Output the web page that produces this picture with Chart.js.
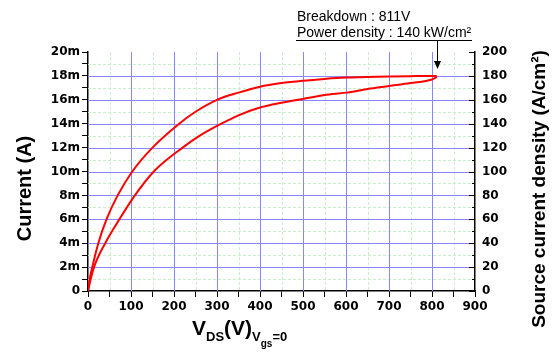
<!DOCTYPE html>
<html>
<head>
<meta charset="utf-8">
<script src="https://cdn.jsdelivr.net/npm/chart.js@4.4.1/dist/chart.umd.min.js"></script>
<style>body{margin:0;background:#fff}</style>
</head>
<body>
<canvas id="graficoIV" width="554" height="353"></canvas>
<script>
// sweep out (lower branch), V and mA
const vOut = [0, 5, 14, 40, 73, 109, 153, 220, 260, 310, 350, 400, 450, 500, 550, 600, 650, 700, 750, 800, 811];
const iOut = [0, 0.8, 2.0, 4.0, 6.0, 8.0, 10.0, 12.0, 13.0, 14.0, 14.7, 15.35, 15.75, 16.07, 16.4, 16.6, 16.9, 17.15, 17.4, 17.7, 17.9];
// sweep back (upper branch), stored with rising V
const vBack = [0, 3, 10, 24, 43, 69, 103, 150, 212, 250, 300, 350, 400, 450, 500, 550, 600, 650, 700, 750, 800, 811];
const iBack = [0, 0.8, 2.0, 4.0, 6.0, 8.0, 10.0, 12.0, 14.0, 15.0, 16.0, 16.6, 17.1, 17.4, 17.6, 17.75, 17.86, 17.9, 17.95, 17.98, 18.0, 18.0];

const xTickLabels = ['0', '100', '200', '300', '400', '500', '600', '700', '800', '900'];
const leftTickLabels = ['0', '2m', '4m', '6m', '8m', '10m', '12m', '14m', '16m', '18m', '20m'];
const rightTickLabels = ['0', '20', '40', '60', '80', '100', '120', '140', '160', '180', '200'];

const breakdownV = 811;
const breakdownI = 18;

const blue = 'rgb(135,135,255)';
const green = 'rgb(200,240,200)';
const fonte = '"Liberation Sans", Arial, sans-serif';
const fonteTicks = '"DejaVu Sans", sans-serif';

function pontos(vs, is) {
  return vs.map((v, k) => ({ x: v, y: is[k] }));
}

// grid drawn under the curves
const grade = {
  id: 'grade',
  beforeDatasetsDraw(chart) {
    const ctx = chart.ctx;
    const { x, y } = chart.scales;
    const area = chart.chartArea;
    const linhas = [];
    x.ticks.forEach(t => {
      if (t.value === 0 || t.value === 900) return;
      const px = Math.round(x.getPixelForValue(t.value)) + 0.5;
      linhas.push([t.value % 100 === 0, px, area.top, px, area.bottom]);
    });
    y.ticks.forEach(t => {
      if (t.value === 0 || t.value === 20) return;
      const py = Math.round(y.getPixelForValue(t.value)) + 0.5;
      linhas.push([t.value % 2 === 0, area.left, py, area.right, py]);
    });
    // minor first, major on top
    [false, true].forEach(major => {
      ctx.save();
      ctx.lineWidth = 1;
      ctx.strokeStyle = major ? blue : green;
      if (!major) ctx.setLineDash([3, 2]);
      ctx.beginPath();
      linhas.filter(l => l[0] === major).forEach(l => { ctx.moveTo(l[1], l[2]); ctx.lineTo(l[3], l[4]); });
      ctx.stroke();
      ctx.restore();
    });
  }
};

// right axis ticks point inward, titles and the breakdown note
const extras = {
  id: 'extras',
  afterDraw(chart) {
    const ctx = chart.ctx;
    const { x, y, y1 } = chart.scales;
    const area = chart.chartArea;
    const right = Math.round(area.right);
    ctx.save();
    ctx.fillStyle = '#000';
    y1.ticks.forEach(t => {
      const py = Math.round(y1.getPixelForValue(t.value));
      const len = t.value % 20 === 0 ? 6 : 3;
      ctx.fillRect(right - len, py, len, 1);
    });

    // left title
    ctx.save();
    ctx.translate(25, (area.top + area.bottom) / 2 + 17);
    ctx.rotate(-Math.PI / 2);
    ctx.font = 'bold 20px ' + fonte;
    ctx.textAlign = 'center';
    ctx.textBaseline = 'middle';
    ctx.fillText('Current (A)', 0, 0);
    ctx.restore();
    // right title
    ctx.save();
    ctx.translate(540, 189);
    ctx.rotate(-Math.PI / 2);
    ctx.font = 'bold 19px ' + fonte;
    ctx.textAlign = 'center';
    ctx.textBaseline = 'middle';
    ctx.fillText('Source current density (A/cm²)', 0, 0);
    ctx.restore();

    // x title with subscripts
    ctx.textAlign = 'left';
    ctx.textBaseline = 'alphabetic';
    let cx = 192;
    const partes = [
      ['V', 21, 335], ['DS', 13, 341], ['(V)', 21, 335], ['V', 13, 341], ['gs', 10, 347], ['=0', 13, 341]
    ];
    partes.forEach(([txt, tam, base]) => {
      ctx.font = 'bold ' + tam + 'px ' + fonte;
      ctx.fillText(txt, cx, base);
      cx += ctx.measureText(txt).width;
    });

    // breakdown note
    ctx.font = '14px ' + fonte;
    ctx.fillText('Breakdown : 811V', 297, 21);
    ctx.fillText('Power density : 140 kW/cm²', 297, 37);
    ctx.fillRect(296, 40, 176, 1);
    const ax = Math.round(x.getPixelForValue(breakdownV));
    const tip = Math.round(y.getPixelForValue(breakdownI)) - 7;
    ctx.fillRect(ax, 40, 1, tip - 46);
    ctx.beginPath();
    ctx.moveTo(ax - 3, tip - 8); ctx.lineTo(ax + 4, tip - 8); ctx.lineTo(ax + 0.5, tip);
    ctx.closePath();
    ctx.fill();
    ctx.restore();
  }
};

const linha = { showLine: true, borderColor: '#ff0000', borderWidth: 2, pointRadius: 0, cubicInterpolationMode: 'monotone' };
const comTicks = { drawOnChartArea: false, drawTicks: true, tickLength: 6, tickColor: '#000', tickWidth: 1 };

const graficoIV = new Chart(document.getElementById('graficoIV'), {
  type: 'scatter',
  data: {
    datasets: [
      Object.assign({ data: pontos(vOut, iOut) }, linha),
      Object.assign({ data: pontos(vBack, iBack) }, linha)
    ]
  },
  options: {
    responsive: false,
    animation: false,
    layout: { padding: { top: 52 } },
    plugins: { legend: { display: false }, tooltip: { enabled: false } },
    scales: {
      x: {
        type: 'linear', min: 0, max: 900,
        afterFit(s) { s.height = 62; },
        ticks: {
          stepSize: 50, autoSkip: false, maxRotation: 0, padding: 3, color: '#000',
          font: { family: fonteTicks, weight: 'bold', size: 12 },
          callback: v => v % 100 === 0 ? xTickLabels[v / 100] : ''
        },
        grid: comTicks,
        border: { color: '#000', width: 1.5 }
      },
      y: {
        type: 'linear', position: 'left', min: 0, max: 20,
        afterFit(s) { s.width = 88; },
        ticks: {
          stepSize: 1, autoSkip: false, padding: 2, color: '#000',
          font: { family: fonteTicks, weight: 'bold', size: 12 },
          callback: v => v % 2 === 0 ? leftTickLabels[v / 2] : ''
        },
        grid: comTicks,
        border: { color: '#000', width: 1.5 }
      },
      y1: {
        type: 'linear', position: 'right', min: 0, max: 200,
        afterFit(s) { s.width = 79; },
        ticks: {
          stepSize: 10, autoSkip: false, padding: 7, color: '#000',
          font: { family: fonteTicks, weight: 'bold', size: 12 },
          callback: v => v % 20 === 0 ? rightTickLabels[v / 20] : ''
        },
        grid: { drawOnChartArea: false, drawTicks: false },
        border: { color: '#000', width: 1.5 }
      }
    }
  },
  plugins: [grade, extras]
});
</script>
</body>
</html>
